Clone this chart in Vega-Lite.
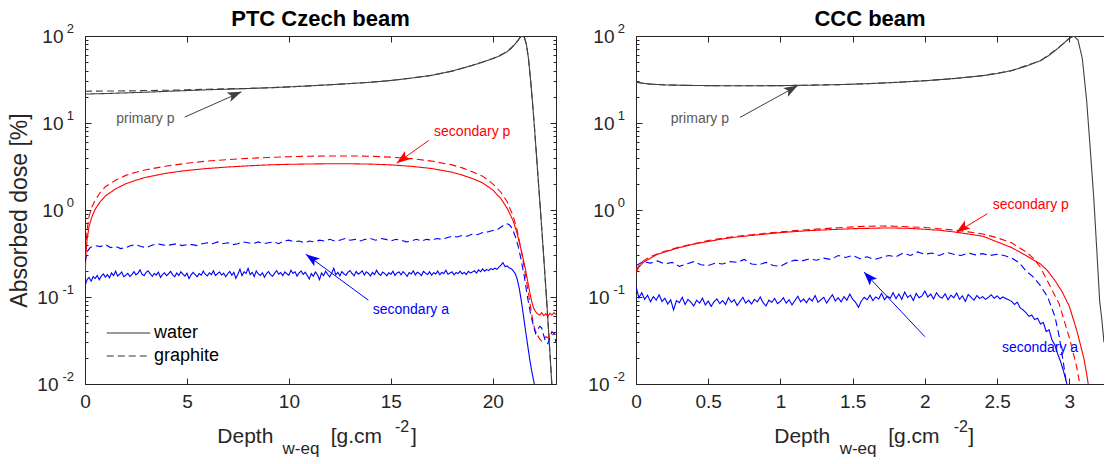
{
"$schema": "https://vega.github.io/schema/vega-lite/v6.json",
"background": "white",
"padding": {"left": 8, "top": 7, "right": 0, "bottom": 0},
"spacing": 30,
"config": {
  "font": "Liberation Sans",
  "view": {"stroke": "#262626", "strokeWidth": 1},
  "axis": {"grid": false, "domainColor": "#262626", "tickColor": "#262626", "labelColor": "#262626", "labelFont": "Liberation Sans", "labelFontSize": 19, "titleFont": "Liberation Sans", "titleColor": "#262626", "titleFontWeight": "normal"},
  "title": {"font": "Liberation Sans", "fontSize": 22, "fontWeight": "bold", "color": "#000000", "offset": -8},
  "text": {"font": "Liberation Sans"},
  "line": {"color": "#333333"}
},
"datasets": {
"ptc": [
{"comp":"primary p","mat":"water","x":0,"y":21.5},{"comp":"primary p","mat":"water","x":1,"y":21.8},{"comp":"primary p","mat":"water","x":2,"y":22.2},{"comp":"primary p","mat":"water","x":3,"y":22.6},{"comp":"primary p","mat":"water","x":4,"y":23.1},{"comp":"primary p","mat":"water","x":5,"y":23.6},{"comp":"primary p","mat":"water","x":6,"y":24.1},{"comp":"primary p","mat":"water","x":7,"y":24.5},{"comp":"primary p","mat":"water","x":8,"y":24.9},{"comp":"primary p","mat":"water","x":9,"y":25.4},{"comp":"primary p","mat":"water","x":10,"y":26},{"comp":"primary p","mat":"water","x":11,"y":26.7},{"comp":"primary p","mat":"water","x":12,"y":27.5},{"comp":"primary p","mat":"water","x":13,"y":28.4},{"comp":"primary p","mat":"water","x":14,"y":29.4},{"comp":"primary p","mat":"water","x":15,"y":30.8},{"comp":"primary p","mat":"water","x":16,"y":32.8},{"comp":"primary p","mat":"water","x":17,"y":35.3},{"comp":"primary p","mat":"water","x":18,"y":39.5},{"comp":"primary p","mat":"water","x":18.5,"y":42.5},{"comp":"primary p","mat":"water","x":19,"y":46},{"comp":"primary p","mat":"water","x":19.5,"y":50},{"comp":"primary p","mat":"water","x":20,"y":55},{"comp":"primary p","mat":"water","x":20.4,"y":60},{"comp":"primary p","mat":"water","x":20.7,"y":66},{"comp":"primary p","mat":"water","x":20.9,"y":72},{"comp":"primary p","mat":"water","x":21.1,"y":81},{"comp":"primary p","mat":"water","x":21.25,"y":90},{"comp":"primary p","mat":"water","x":21.35,"y":97},{"comp":"primary p","mat":"water","x":21.45,"y":100},{"comp":"primary p","mat":"water","x":21.55,"y":96},{"comp":"primary p","mat":"water","x":21.65,"y":80},{"comp":"primary p","mat":"water","x":21.75,"y":55},{"comp":"primary p","mat":"water","x":21.85,"y":32},{"comp":"primary p","mat":"water","x":21.95,"y":17},{"comp":"primary p","mat":"water","x":22.05,"y":8.5},{"comp":"primary p","mat":"water","x":22.15,"y":4},{"comp":"primary p","mat":"water","x":22.25,"y":1.9},{"comp":"primary p","mat":"water","x":22.35,"y":0.9},{"comp":"primary p","mat":"water","x":22.45,"y":0.42},{"comp":"primary p","mat":"water","x":22.55,"y":0.19},{"comp":"primary p","mat":"water","x":22.65,"y":0.085},{"comp":"primary p","mat":"water","x":22.75,"y":0.036},{"comp":"primary p","mat":"water","x":22.85,"y":0.015},{"comp":"primary p","mat":"water","x":22.95,"y":0.006},
{"comp":"primary p","mat":"graphite","x":0,"y":23.2},{"comp":"primary p","mat":"graphite","x":1,"y":23.3},{"comp":"primary p","mat":"graphite","x":2,"y":23.4},{"comp":"primary p","mat":"graphite","x":3,"y":23.6},{"comp":"primary p","mat":"graphite","x":4,"y":23.8},{"comp":"primary p","mat":"graphite","x":5,"y":24.1},{"comp":"primary p","mat":"graphite","x":6,"y":24.4},{"comp":"primary p","mat":"graphite","x":7,"y":24.7},{"comp":"primary p","mat":"graphite","x":8,"y":25},{"comp":"primary p","mat":"graphite","x":9,"y":25.4},{"comp":"primary p","mat":"graphite","x":10,"y":26},{"comp":"primary p","mat":"graphite","x":11,"y":26.7},{"comp":"primary p","mat":"graphite","x":12,"y":27.5},{"comp":"primary p","mat":"graphite","x":13,"y":28.4},{"comp":"primary p","mat":"graphite","x":14,"y":29.4},{"comp":"primary p","mat":"graphite","x":15,"y":30.8},{"comp":"primary p","mat":"graphite","x":16,"y":32.8},{"comp":"primary p","mat":"graphite","x":17,"y":35.3},{"comp":"primary p","mat":"graphite","x":18,"y":39.5},{"comp":"primary p","mat":"graphite","x":19,"y":46},{"comp":"primary p","mat":"graphite","x":20,"y":55},{"comp":"primary p","mat":"graphite","x":20.7,"y":66},{"comp":"primary p","mat":"graphite","x":21.1,"y":81},{"comp":"primary p","mat":"graphite","x":21.35,"y":97},{"comp":"primary p","mat":"graphite","x":21.45,"y":100},{"comp":"primary p","mat":"graphite","x":21.55,"y":96},{"comp":"primary p","mat":"graphite","x":21.65,"y":80},{"comp":"primary p","mat":"graphite","x":21.75,"y":55},{"comp":"primary p","mat":"graphite","x":21.85,"y":32},{"comp":"primary p","mat":"graphite","x":21.95,"y":17},{"comp":"primary p","mat":"graphite","x":22.05,"y":8.5},{"comp":"primary p","mat":"graphite","x":22.15,"y":4},{"comp":"primary p","mat":"graphite","x":22.25,"y":1.9},{"comp":"primary p","mat":"graphite","x":22.35,"y":0.9},{"comp":"primary p","mat":"graphite","x":22.45,"y":0.42},{"comp":"primary p","mat":"graphite","x":22.55,"y":0.19},{"comp":"primary p","mat":"graphite","x":22.65,"y":0.085},{"comp":"primary p","mat":"graphite","x":22.75,"y":0.036},{"comp":"primary p","mat":"graphite","x":22.85,"y":0.015},{"comp":"primary p","mat":"graphite","x":22.95,"y":0.006},
{"comp":"secondary p","mat":"water","x":0,"y":0.17},{"comp":"secondary p","mat":"water","x":0.05,"y":0.32},{"comp":"secondary p","mat":"water","x":0.1,"y":0.45},{"comp":"secondary p","mat":"water","x":0.2,"y":0.65},{"comp":"secondary p","mat":"water","x":0.35,"y":0.85},{"comp":"secondary p","mat":"water","x":0.5,"y":1.02},{"comp":"secondary p","mat":"water","x":0.75,"y":1.25},{"comp":"secondary p","mat":"water","x":1,"y":1.45},{"comp":"secondary p","mat":"water","x":1.5,"y":1.75},{"comp":"secondary p","mat":"water","x":2,"y":2},{"comp":"secondary p","mat":"water","x":2.5,"y":2.2},{"comp":"secondary p","mat":"water","x":3,"y":2.38},{"comp":"secondary p","mat":"water","x":4,"y":2.65},{"comp":"secondary p","mat":"water","x":5,"y":2.85},{"comp":"secondary p","mat":"water","x":6,"y":3},{"comp":"secondary p","mat":"water","x":7,"y":3.12},{"comp":"secondary p","mat":"water","x":8,"y":3.22},{"comp":"secondary p","mat":"water","x":9,"y":3.3},{"comp":"secondary p","mat":"water","x":10,"y":3.35},{"comp":"secondary p","mat":"water","x":11,"y":3.38},{"comp":"secondary p","mat":"water","x":12,"y":3.4},{"comp":"secondary p","mat":"water","x":13,"y":3.4},{"comp":"secondary p","mat":"water","x":14,"y":3.37},{"comp":"secondary p","mat":"water","x":15,"y":3.3},{"comp":"secondary p","mat":"water","x":16,"y":3.18},{"comp":"secondary p","mat":"water","x":17,"y":3},{"comp":"secondary p","mat":"water","x":18,"y":2.72},{"comp":"secondary p","mat":"water","x":18.5,"y":2.52},{"comp":"secondary p","mat":"water","x":19,"y":2.3},{"comp":"secondary p","mat":"water","x":19.5,"y":2.05},{"comp":"secondary p","mat":"water","x":20,"y":1.7},{"comp":"secondary p","mat":"water","x":20.4,"y":1.35},{"comp":"secondary p","mat":"water","x":20.7,"y":1.05},{"comp":"secondary p","mat":"water","x":21,"y":0.75},{"comp":"secondary p","mat":"water","x":21.2,"y":0.53},{"comp":"secondary p","mat":"water","x":21.4,"y":0.34},{"comp":"secondary p","mat":"water","x":21.6,"y":0.21},{"comp":"secondary p","mat":"water","x":21.75,"y":0.135},{"comp":"secondary p","mat":"water","x":21.9,"y":0.09},{"comp":"secondary p","mat":"water","x":22,"y":0.075},{"comp":"secondary p","mat":"water","x":22.1,"y":0.068},{"comp":"secondary p","mat":"water","x":22.2,"y":0.064},{"comp":"secondary p","mat":"water","x":22.3,"y":0.062},{"comp":"secondary p","mat":"water","x":22.4,"y":0.066},{"comp":"secondary p","mat":"water","x":22.5,"y":0.061},{"comp":"secondary p","mat":"water","x":22.6,"y":0.064},{"comp":"secondary p","mat":"water","x":22.7,"y":0.06},{"comp":"secondary p","mat":"water","x":22.8,"y":0.065},{"comp":"secondary p","mat":"water","x":22.9,"y":0.062},{"comp":"secondary p","mat":"water","x":23,"y":0.066},{"comp":"secondary p","mat":"water","x":23.1,"y":0.063},
{"comp":"secondary p","mat":"graphite","x":0,"y":0.19},{"comp":"secondary p","mat":"graphite","x":0.05,"y":0.4},{"comp":"secondary p","mat":"graphite","x":0.1,"y":0.58},{"comp":"secondary p","mat":"graphite","x":0.2,"y":0.85},{"comp":"secondary p","mat":"graphite","x":0.35,"y":1.1},{"comp":"secondary p","mat":"graphite","x":0.5,"y":1.3},{"comp":"secondary p","mat":"graphite","x":0.75,"y":1.6},{"comp":"secondary p","mat":"graphite","x":1,"y":1.85},{"comp":"secondary p","mat":"graphite","x":1.5,"y":2.2},{"comp":"secondary p","mat":"graphite","x":2,"y":2.5},{"comp":"secondary p","mat":"graphite","x":2.5,"y":2.72},{"comp":"secondary p","mat":"graphite","x":3,"y":2.9},{"comp":"secondary p","mat":"graphite","x":4,"y":3.2},{"comp":"secondary p","mat":"graphite","x":5,"y":3.45},{"comp":"secondary p","mat":"graphite","x":6,"y":3.65},{"comp":"secondary p","mat":"graphite","x":7,"y":3.8},{"comp":"secondary p","mat":"graphite","x":8,"y":3.92},{"comp":"secondary p","mat":"graphite","x":9,"y":4.02},{"comp":"secondary p","mat":"graphite","x":10,"y":4.1},{"comp":"secondary p","mat":"graphite","x":11,"y":4.15},{"comp":"secondary p","mat":"graphite","x":12,"y":4.18},{"comp":"secondary p","mat":"graphite","x":13,"y":4.18},{"comp":"secondary p","mat":"graphite","x":14,"y":4.15},{"comp":"secondary p","mat":"graphite","x":15,"y":4.05},{"comp":"secondary p","mat":"graphite","x":16,"y":3.9},{"comp":"secondary p","mat":"graphite","x":17,"y":3.65},{"comp":"secondary p","mat":"graphite","x":18,"y":3.3},{"comp":"secondary p","mat":"graphite","x":18.5,"y":3.05},{"comp":"secondary p","mat":"graphite","x":19,"y":2.75},{"comp":"secondary p","mat":"graphite","x":19.5,"y":2.45},{"comp":"secondary p","mat":"graphite","x":20,"y":2},{"comp":"secondary p","mat":"graphite","x":20.4,"y":1.6},{"comp":"secondary p","mat":"graphite","x":20.7,"y":1.25},{"comp":"secondary p","mat":"graphite","x":21,"y":0.85},{"comp":"secondary p","mat":"graphite","x":21.2,"y":0.58},{"comp":"secondary p","mat":"graphite","x":21.4,"y":0.34},{"comp":"secondary p","mat":"graphite","x":21.6,"y":0.18},{"comp":"secondary p","mat":"graphite","x":21.75,"y":0.11},{"comp":"secondary p","mat":"graphite","x":21.9,"y":0.065},{"comp":"secondary p","mat":"graphite","x":22,"y":0.048},{"comp":"secondary p","mat":"graphite","x":22.1,"y":0.04},{"comp":"secondary p","mat":"graphite","x":22.2,"y":0.036},{"comp":"secondary p","mat":"graphite","x":22.3,"y":0.033},{"comp":"secondary p","mat":"graphite","x":22.4,"y":0.031},{"comp":"secondary p","mat":"graphite","x":22.5,"y":0.033},{"comp":"secondary p","mat":"graphite","x":22.6,"y":0.035},{"comp":"secondary p","mat":"graphite","x":22.7,"y":0.034},{"comp":"secondary p","mat":"graphite","x":22.8,"y":0.037},{"comp":"secondary p","mat":"graphite","x":22.9,"y":0.036},{"comp":"secondary p","mat":"graphite","x":23,"y":0.038},{"comp":"secondary p","mat":"graphite","x":23.1,"y":0.037},
{"comp":"secondary a","mat":"water","x":0,"y":0.135},{"comp":"secondary a","mat":"water","x":0.1,"y":0.158},{"comp":"secondary a","mat":"water","x":0.2,"y":0.168},{"comp":"secondary a","mat":"water","x":0.3,"y":0.152},{"comp":"secondary a","mat":"water","x":0.4,"y":0.171},{"comp":"secondary a","mat":"water","x":0.5,"y":0.163},{"comp":"secondary a","mat":"water","x":0.6,"y":0.177},{"comp":"secondary a","mat":"water","x":0.7,"y":0.158},{"comp":"secondary a","mat":"water","x":0.8,"y":0.174},{"comp":"secondary a","mat":"water","x":0.9,"y":0.184},
{"comp":"secondary a","mat":"water","x":1,"y":0.169},{"comp":"secondary a","mat":"water","x":1.1,"y":0.181},{"comp":"secondary a","mat":"water","x":1.2,"y":0.166},{"comp":"secondary a","mat":"water","x":1.3,"y":0.189},{"comp":"secondary a","mat":"water","x":1.4,"y":0.176},{"comp":"secondary a","mat":"water","x":1.5,"y":0.198},{"comp":"secondary a","mat":"water","x":1.6,"y":0.174},{"comp":"secondary a","mat":"water","x":1.7,"y":0.183},{"comp":"secondary a","mat":"water","x":1.8,"y":0.194},{"comp":"secondary a","mat":"water","x":1.9,"y":0.171},
{"comp":"secondary a","mat":"water","x":2,"y":0.178},{"comp":"secondary a","mat":"water","x":2.1,"y":0.187},{"comp":"secondary a","mat":"water","x":2.2,"y":0.172},{"comp":"secondary a","mat":"water","x":2.3,"y":0.181},{"comp":"secondary a","mat":"water","x":2.4,"y":0.196},{"comp":"secondary a","mat":"water","x":2.5,"y":0.179},{"comp":"secondary a","mat":"water","x":2.6,"y":0.188},{"comp":"secondary a","mat":"water","x":2.7,"y":0.205},{"comp":"secondary a","mat":"water","x":2.8,"y":0.182},{"comp":"secondary a","mat":"water","x":2.9,"y":0.176},
{"comp":"secondary a","mat":"water","x":3,"y":0.192},{"comp":"secondary a","mat":"water","x":3.1,"y":0.2},{"comp":"secondary a","mat":"water","x":3.2,"y":0.184},{"comp":"secondary a","mat":"water","x":3.3,"y":0.173},{"comp":"secondary a","mat":"water","x":3.4,"y":0.186},{"comp":"secondary a","mat":"water","x":3.5,"y":0.179},{"comp":"secondary a","mat":"water","x":3.6,"y":0.193},{"comp":"secondary a","mat":"water","x":3.7,"y":0.168},{"comp":"secondary a","mat":"water","x":3.8,"y":0.181},{"comp":"secondary a","mat":"water","x":3.9,"y":0.19},
{"comp":"secondary a","mat":"water","x":4,"y":0.176},{"comp":"secondary a","mat":"water","x":4.1,"y":0.185},{"comp":"secondary a","mat":"water","x":4.2,"y":0.197},{"comp":"secondary a","mat":"water","x":4.3,"y":0.18},{"comp":"secondary a","mat":"water","x":4.4,"y":0.171},{"comp":"secondary a","mat":"water","x":4.5,"y":0.189},{"comp":"secondary a","mat":"water","x":4.6,"y":0.177},{"comp":"secondary a","mat":"water","x":4.7,"y":0.195},{"comp":"secondary a","mat":"water","x":4.8,"y":0.183},{"comp":"secondary a","mat":"water","x":4.9,"y":0.174},
{"comp":"secondary a","mat":"water","x":5,"y":0.188},{"comp":"secondary a","mat":"water","x":5.1,"y":0.163},{"comp":"secondary a","mat":"water","x":5.2,"y":0.179},{"comp":"secondary a","mat":"water","x":5.3,"y":0.192},{"comp":"secondary a","mat":"water","x":5.4,"y":0.181},{"comp":"secondary a","mat":"water","x":5.5,"y":0.171},{"comp":"secondary a","mat":"water","x":5.6,"y":0.186},{"comp":"secondary a","mat":"water","x":5.7,"y":0.178},{"comp":"secondary a","mat":"water","x":5.8,"y":0.198},{"comp":"secondary a","mat":"water","x":5.9,"y":0.183},
{"comp":"secondary a","mat":"water","x":6,"y":0.175},{"comp":"secondary a","mat":"water","x":6.1,"y":0.19},{"comp":"secondary a","mat":"water","x":6.2,"y":0.181},{"comp":"secondary a","mat":"water","x":6.3,"y":0.2},{"comp":"secondary a","mat":"water","x":6.4,"y":0.176},{"comp":"secondary a","mat":"water","x":6.5,"y":0.186},{"comp":"secondary a","mat":"water","x":6.6,"y":0.194},{"comp":"secondary a","mat":"water","x":6.7,"y":0.179},{"comp":"secondary a","mat":"water","x":6.8,"y":0.188},{"comp":"secondary a","mat":"water","x":6.9,"y":0.171},
{"comp":"secondary a","mat":"water","x":7,"y":0.185},{"comp":"secondary a","mat":"water","x":7.1,"y":0.197},{"comp":"secondary a","mat":"water","x":7.2,"y":0.178},{"comp":"secondary a","mat":"water","x":7.3,"y":0.192},{"comp":"secondary a","mat":"water","x":7.4,"y":0.164},{"comp":"secondary a","mat":"water","x":7.5,"y":0.183},{"comp":"secondary a","mat":"water","x":7.6,"y":0.209},{"comp":"secondary a","mat":"water","x":7.7,"y":0.176},{"comp":"secondary a","mat":"water","x":7.8,"y":0.195},{"comp":"secondary a","mat":"water","x":7.9,"y":0.187},
{"comp":"secondary a","mat":"water","x":8,"y":0.214},{"comp":"secondary a","mat":"water","x":8.1,"y":0.181},{"comp":"secondary a","mat":"water","x":8.2,"y":0.192},{"comp":"secondary a","mat":"water","x":8.3,"y":0.172},{"comp":"secondary a","mat":"water","x":8.4,"y":0.199},{"comp":"secondary a","mat":"water","x":8.5,"y":0.184},{"comp":"secondary a","mat":"water","x":8.6,"y":0.177},{"comp":"secondary a","mat":"water","x":8.7,"y":0.19},{"comp":"secondary a","mat":"water","x":8.8,"y":0.169},{"comp":"secondary a","mat":"water","x":8.9,"y":0.186},
{"comp":"secondary a","mat":"water","x":9,"y":0.196},{"comp":"secondary a","mat":"water","x":9.1,"y":0.18},{"comp":"secondary a","mat":"water","x":9.2,"y":0.173},{"comp":"secondary a","mat":"water","x":9.3,"y":0.188},{"comp":"secondary a","mat":"water","x":9.4,"y":0.201},{"comp":"secondary a","mat":"water","x":9.5,"y":0.183},{"comp":"secondary a","mat":"water","x":9.6,"y":0.191},{"comp":"secondary a","mat":"water","x":9.7,"y":0.176},{"comp":"secondary a","mat":"water","x":9.8,"y":0.194},{"comp":"secondary a","mat":"water","x":9.9,"y":0.185},
{"comp":"secondary a","mat":"water","x":10,"y":0.178},{"comp":"secondary a","mat":"water","x":10.1,"y":0.203},{"comp":"secondary a","mat":"water","x":10.2,"y":0.187},{"comp":"secondary a","mat":"water","x":10.3,"y":0.195},{"comp":"secondary a","mat":"water","x":10.4,"y":0.174},{"comp":"secondary a","mat":"water","x":10.5,"y":0.189},{"comp":"secondary a","mat":"water","x":10.6,"y":0.199},{"comp":"secondary a","mat":"water","x":10.7,"y":0.182},{"comp":"secondary a","mat":"water","x":10.8,"y":0.193},{"comp":"secondary a","mat":"water","x":10.9,"y":0.177},
{"comp":"secondary a","mat":"water","x":11,"y":0.161},{"comp":"secondary a","mat":"water","x":11.1,"y":0.186},{"comp":"secondary a","mat":"water","x":11.2,"y":0.173},{"comp":"secondary a","mat":"water","x":11.3,"y":0.194},{"comp":"secondary a","mat":"water","x":11.4,"y":0.18},{"comp":"secondary a","mat":"water","x":11.5,"y":0.158},{"comp":"secondary a","mat":"water","x":11.6,"y":0.189},{"comp":"secondary a","mat":"water","x":11.7,"y":0.176},{"comp":"secondary a","mat":"water","x":11.8,"y":0.198},{"comp":"secondary a","mat":"water","x":11.9,"y":0.182},
{"comp":"secondary a","mat":"water","x":12,"y":0.171},{"comp":"secondary a","mat":"water","x":12.1,"y":0.188},{"comp":"secondary a","mat":"water","x":12.2,"y":0.214},{"comp":"secondary a","mat":"water","x":12.3,"y":0.18},{"comp":"secondary a","mat":"water","x":12.4,"y":0.192},{"comp":"secondary a","mat":"water","x":12.5,"y":0.175},{"comp":"secondary a","mat":"water","x":12.6,"y":0.196},{"comp":"secondary a","mat":"water","x":12.7,"y":0.184},{"comp":"secondary a","mat":"water","x":12.8,"y":0.178},{"comp":"secondary a","mat":"water","x":12.9,"y":0.193},
{"comp":"secondary a","mat":"water","x":13,"y":0.201},{"comp":"secondary a","mat":"water","x":13.1,"y":0.186},{"comp":"secondary a","mat":"water","x":13.2,"y":0.175},{"comp":"secondary a","mat":"water","x":13.3,"y":0.197},{"comp":"secondary a","mat":"water","x":13.4,"y":0.183},{"comp":"secondary a","mat":"water","x":13.5,"y":0.19},{"comp":"secondary a","mat":"water","x":13.6,"y":0.2},{"comp":"secondary a","mat":"water","x":13.7,"y":0.179},{"comp":"secondary a","mat":"water","x":13.8,"y":0.195},{"comp":"secondary a","mat":"water","x":13.9,"y":0.187},
{"comp":"secondary a","mat":"water","x":14,"y":0.174},{"comp":"secondary a","mat":"water","x":14.1,"y":0.192},{"comp":"secondary a","mat":"water","x":14.2,"y":0.181},{"comp":"secondary a","mat":"water","x":14.3,"y":0.203},{"comp":"secondary a","mat":"water","x":14.4,"y":0.185},{"comp":"secondary a","mat":"water","x":14.5,"y":0.177},{"comp":"secondary a","mat":"water","x":14.6,"y":0.194},{"comp":"secondary a","mat":"water","x":14.7,"y":0.186},{"comp":"secondary a","mat":"water","x":14.8,"y":0.175},{"comp":"secondary a","mat":"water","x":14.9,"y":0.19},
{"comp":"secondary a","mat":"water","x":15,"y":0.182},{"comp":"secondary a","mat":"water","x":15.1,"y":0.198},{"comp":"secondary a","mat":"water","x":15.2,"y":0.177},{"comp":"secondary a","mat":"water","x":15.3,"y":0.189},{"comp":"secondary a","mat":"water","x":15.4,"y":0.194},{"comp":"secondary a","mat":"water","x":15.5,"y":0.18},{"comp":"secondary a","mat":"water","x":15.6,"y":0.196},{"comp":"secondary a","mat":"water","x":15.7,"y":0.185},{"comp":"secondary a","mat":"water","x":15.8,"y":0.173},{"comp":"secondary a","mat":"water","x":15.9,"y":0.191},
{"comp":"secondary a","mat":"water","x":16,"y":0.184},{"comp":"secondary a","mat":"water","x":16.1,"y":0.2},{"comp":"secondary a","mat":"water","x":16.2,"y":0.179},{"comp":"secondary a","mat":"water","x":16.3,"y":0.193},{"comp":"secondary a","mat":"water","x":16.4,"y":0.186},{"comp":"secondary a","mat":"water","x":16.5,"y":0.176},{"comp":"secondary a","mat":"water","x":16.6,"y":0.197},{"comp":"secondary a","mat":"water","x":16.7,"y":0.188},{"comp":"secondary a","mat":"water","x":16.8,"y":0.181},{"comp":"secondary a","mat":"water","x":16.9,"y":0.195},
{"comp":"secondary a","mat":"water","x":17,"y":0.178},{"comp":"secondary a","mat":"water","x":17.1,"y":0.19},{"comp":"secondary a","mat":"water","x":17.2,"y":0.184},{"comp":"secondary a","mat":"water","x":17.3,"y":0.199},{"comp":"secondary a","mat":"water","x":17.4,"y":0.18},{"comp":"secondary a","mat":"water","x":17.5,"y":0.192},{"comp":"secondary a","mat":"water","x":17.6,"y":0.186},{"comp":"secondary a","mat":"water","x":17.7,"y":0.203},{"comp":"secondary a","mat":"water","x":17.8,"y":0.183},{"comp":"secondary a","mat":"water","x":17.9,"y":0.189},
{"comp":"secondary a","mat":"water","x":18,"y":0.195},{"comp":"secondary a","mat":"water","x":18.1,"y":0.18},{"comp":"secondary a","mat":"water","x":18.2,"y":0.191},{"comp":"secondary a","mat":"water","x":18.3,"y":0.186},{"comp":"secondary a","mat":"water","x":18.4,"y":0.198},{"comp":"secondary a","mat":"water","x":18.5,"y":0.184},{"comp":"secondary a","mat":"water","x":18.6,"y":0.192},{"comp":"secondary a","mat":"water","x":18.7,"y":0.181},{"comp":"secondary a","mat":"water","x":18.8,"y":0.197},{"comp":"secondary a","mat":"water","x":18.9,"y":0.189},
{"comp":"secondary a","mat":"water","x":19,"y":0.194},{"comp":"secondary a","mat":"water","x":19.1,"y":0.2},{"comp":"secondary a","mat":"water","x":19.2,"y":0.188},{"comp":"secondary a","mat":"water","x":19.3,"y":0.205},{"comp":"secondary a","mat":"water","x":19.4,"y":0.195},{"comp":"secondary a","mat":"water","x":19.5,"y":0.21},{"comp":"secondary a","mat":"water","x":19.6,"y":0.198},{"comp":"secondary a","mat":"water","x":19.7,"y":0.207},{"comp":"secondary a","mat":"water","x":19.8,"y":0.201},{"comp":"secondary a","mat":"water","x":19.9,"y":0.212},
{"comp":"secondary a","mat":"water","x":20,"y":0.206},{"comp":"secondary a","mat":"water","x":20.1,"y":0.215},{"comp":"secondary a","mat":"water","x":20.2,"y":0.208},{"comp":"secondary a","mat":"water","x":20.3,"y":0.22},{"comp":"secondary a","mat":"water","x":20.4,"y":0.232},{"comp":"secondary a","mat":"water","x":20.5,"y":0.248},{"comp":"secondary a","mat":"water","x":20.6,"y":0.224},{"comp":"secondary a","mat":"water","x":20.7,"y":0.228},{"comp":"secondary a","mat":"water","x":20.8,"y":0.216},{"comp":"secondary a","mat":"water","x":20.9,"y":0.212},
{"comp":"secondary a","mat":"water","x":21,"y":0.2},{"comp":"secondary a","mat":"water","x":21.1,"y":0.186},{"comp":"secondary a","mat":"water","x":21.2,"y":0.16},{"comp":"secondary a","mat":"water","x":21.3,"y":0.125},{"comp":"secondary a","mat":"water","x":21.4,"y":0.09},{"comp":"secondary a","mat":"water","x":21.5,"y":0.062},{"comp":"secondary a","mat":"water","x":21.6,"y":0.042},{"comp":"secondary a","mat":"water","x":21.7,"y":0.029},{"comp":"secondary a","mat":"water","x":21.8,"y":0.02},{"comp":"secondary a","mat":"water","x":21.9,"y":0.0145},{"comp":"secondary a","mat":"water","x":22,"y":0.011},{"comp":"secondary a","mat":"water","x":22.1,"y":0.0085},
{"comp":"secondary a","mat":"graphite","x":0,"y":0.25},{"comp":"secondary a","mat":"graphite","x":0.1,"y":0.33},{"comp":"secondary a","mat":"graphite","x":0.25,"y":0.37},{"comp":"secondary a","mat":"graphite","x":0.5,"y":0.39},{"comp":"secondary a","mat":"graphite","x":0.75,"y":0.38},{"comp":"secondary a","mat":"graphite","x":1,"y":0.4},{"comp":"secondary a","mat":"graphite","x":1.25,"y":0.37},{"comp":"secondary a","mat":"graphite","x":1.5,"y":0.38},{"comp":"secondary a","mat":"graphite","x":1.75,"y":0.36},{"comp":"secondary a","mat":"graphite","x":2,"y":0.37},{"comp":"secondary a","mat":"graphite","x":2.25,"y":0.39},{"comp":"secondary a","mat":"graphite","x":2.5,"y":0.4},{"comp":"secondary a","mat":"graphite","x":2.75,"y":0.38},{"comp":"secondary a","mat":"graphite","x":3,"y":0.37},{"comp":"secondary a","mat":"graphite","x":3.25,"y":0.39},{"comp":"secondary a","mat":"graphite","x":3.5,"y":0.41},{"comp":"secondary a","mat":"graphite","x":3.75,"y":0.4},{"comp":"secondary a","mat":"graphite","x":4,"y":0.39},{"comp":"secondary a","mat":"graphite","x":4.25,"y":0.4},{"comp":"secondary a","mat":"graphite","x":4.5,"y":0.41},{"comp":"secondary a","mat":"graphite","x":4.75,"y":0.39},{"comp":"secondary a","mat":"graphite","x":5,"y":0.4},{"comp":"secondary a","mat":"graphite","x":5.25,"y":0.4},{"comp":"secondary a","mat":"graphite","x":5.5,"y":0.39},{"comp":"secondary a","mat":"graphite","x":5.75,"y":0.41},{"comp":"secondary a","mat":"graphite","x":6,"y":0.42},{"comp":"secondary a","mat":"graphite","x":6.25,"y":0.41},{"comp":"secondary a","mat":"graphite","x":6.5,"y":0.43},{"comp":"secondary a","mat":"graphite","x":6.75,"y":0.41},{"comp":"secondary a","mat":"graphite","x":7,"y":0.42},{"comp":"secondary a","mat":"graphite","x":7.25,"y":0.4},{"comp":"secondary a","mat":"graphite","x":7.5,"y":0.41},{"comp":"secondary a","mat":"graphite","x":7.75,"y":0.43},{"comp":"secondary a","mat":"graphite","x":8,"y":0.42},{"comp":"secondary a","mat":"graphite","x":8.25,"y":0.41},{"comp":"secondary a","mat":"graphite","x":8.5,"y":0.43},{"comp":"secondary a","mat":"graphite","x":8.75,"y":0.41},{"comp":"secondary a","mat":"graphite","x":9,"y":0.42},{"comp":"secondary a","mat":"graphite","x":9.25,"y":0.43},{"comp":"secondary a","mat":"graphite","x":9.5,"y":0.41},{"comp":"secondary a","mat":"graphite","x":9.75,"y":0.44},{"comp":"secondary a","mat":"graphite","x":10,"y":0.45},{"comp":"secondary a","mat":"graphite","x":10.25,"y":0.43},{"comp":"secondary a","mat":"graphite","x":10.5,"y":0.44},{"comp":"secondary a","mat":"graphite","x":10.75,"y":0.42},{"comp":"secondary a","mat":"graphite","x":11,"y":0.44},{"comp":"secondary a","mat":"graphite","x":11.25,"y":0.43},{"comp":"secondary a","mat":"graphite","x":11.5,"y":0.45},{"comp":"secondary a","mat":"graphite","x":11.75,"y":0.44},{"comp":"secondary a","mat":"graphite","x":12,"y":0.46},{"comp":"secondary a","mat":"graphite","x":12.25,"y":0.44},{"comp":"secondary a","mat":"graphite","x":12.5,"y":0.45},{"comp":"secondary a","mat":"graphite","x":12.75,"y":0.47},{"comp":"secondary a","mat":"graphite","x":13,"y":0.45},{"comp":"secondary a","mat":"graphite","x":13.25,"y":0.46},{"comp":"secondary a","mat":"graphite","x":13.5,"y":0.44},{"comp":"secondary a","mat":"graphite","x":13.75,"y":0.46},{"comp":"secondary a","mat":"graphite","x":14,"y":0.47},{"comp":"secondary a","mat":"graphite","x":14.25,"y":0.45},{"comp":"secondary a","mat":"graphite","x":14.5,"y":0.47},{"comp":"secondary a","mat":"graphite","x":14.75,"y":0.46},{"comp":"secondary a","mat":"graphite","x":15,"y":0.44},{"comp":"secondary a","mat":"graphite","x":15.25,"y":0.46},{"comp":"secondary a","mat":"graphite","x":15.5,"y":0.45},{"comp":"secondary a","mat":"graphite","x":15.75,"y":0.43},{"comp":"secondary a","mat":"graphite","x":16,"y":0.44},{"comp":"secondary a","mat":"graphite","x":16.25,"y":0.46},{"comp":"secondary a","mat":"graphite","x":16.5,"y":0.44},{"comp":"secondary a","mat":"graphite","x":16.75,"y":0.46},{"comp":"secondary a","mat":"graphite","x":17,"y":0.45},{"comp":"secondary a","mat":"graphite","x":17.25,"y":0.47},{"comp":"secondary a","mat":"graphite","x":17.5,"y":0.46},{"comp":"secondary a","mat":"graphite","x":17.75,"y":0.48},{"comp":"secondary a","mat":"graphite","x":18,"y":0.5},{"comp":"secondary a","mat":"graphite","x":18.25,"y":0.49},{"comp":"secondary a","mat":"graphite","x":18.5,"y":0.51},{"comp":"secondary a","mat":"graphite","x":18.75,"y":0.5},{"comp":"secondary a","mat":"graphite","x":19,"y":0.53},{"comp":"secondary a","mat":"graphite","x":19.25,"y":0.52},{"comp":"secondary a","mat":"graphite","x":19.5,"y":0.55},{"comp":"secondary a","mat":"graphite","x":19.75,"y":0.56},{"comp":"secondary a","mat":"graphite","x":20,"y":0.58},{"comp":"secondary a","mat":"graphite","x":20.25,"y":0.6},{"comp":"secondary a","mat":"graphite","x":20.5,"y":0.66},{"comp":"secondary a","mat":"graphite","x":20.65,"y":0.7},{"comp":"secondary a","mat":"graphite","x":20.8,"y":0.68},{"comp":"secondary a","mat":"graphite","x":20.95,"y":0.62},{"comp":"secondary a","mat":"graphite","x":21.1,"y":0.5},{"comp":"secondary a","mat":"graphite","x":21.25,"y":0.38},{"comp":"secondary a","mat":"graphite","x":21.4,"y":0.26},{"comp":"secondary a","mat":"graphite","x":21.55,"y":0.17},{"comp":"secondary a","mat":"graphite","x":21.7,"y":0.1},{"comp":"secondary a","mat":"graphite","x":21.85,"y":0.065},{"comp":"secondary a","mat":"graphite","x":22,"y":0.046},{"comp":"secondary a","mat":"graphite","x":22.1,"y":0.038},{"comp":"secondary a","mat":"graphite","x":22.2,"y":0.042},{"comp":"secondary a","mat":"graphite","x":22.3,"y":0.046},{"comp":"secondary a","mat":"graphite","x":22.4,"y":0.044},{"comp":"secondary a","mat":"graphite","x":22.5,"y":0.036},{"comp":"secondary a","mat":"graphite","x":22.6,"y":0.03},{"comp":"secondary a","mat":"graphite","x":22.7,"y":0.029},{"comp":"secondary a","mat":"graphite","x":22.8,"y":0.034},{"comp":"secondary a","mat":"graphite","x":22.9,"y":0.04},{"comp":"secondary a","mat":"graphite","x":23,"y":0.038},{"comp":"secondary a","mat":"graphite","x":23.1,"y":0.03}
],
"ccc": [
{"comp":"primary p","mat":"water","x":0,"y":29.5},{"comp":"primary p","mat":"water","x":0.05,"y":28.6},{"comp":"primary p","mat":"water","x":0.1,"y":28},{"comp":"primary p","mat":"water","x":0.2,"y":27.4},{"comp":"primary p","mat":"water","x":0.4,"y":27},{"comp":"primary p","mat":"water","x":0.6,"y":26.8},{"comp":"primary p","mat":"water","x":0.8,"y":26.8},{"comp":"primary p","mat":"water","x":1,"y":26.9},{"comp":"primary p","mat":"water","x":1.2,"y":27.2},{"comp":"primary p","mat":"water","x":1.4,"y":27.6},{"comp":"primary p","mat":"water","x":1.6,"y":28.3},{"comp":"primary p","mat":"water","x":1.8,"y":29.3},{"comp":"primary p","mat":"water","x":2,"y":30.6},{"comp":"primary p","mat":"water","x":2.2,"y":32.4},{"comp":"primary p","mat":"water","x":2.4,"y":35},{"comp":"primary p","mat":"water","x":2.5,"y":37},{"comp":"primary p","mat":"water","x":2.6,"y":40},{"comp":"primary p","mat":"water","x":2.7,"y":45},{"comp":"primary p","mat":"water","x":2.8,"y":52},{"comp":"primary p","mat":"water","x":2.86,"y":60},{"comp":"primary p","mat":"water","x":2.92,"y":72},{"comp":"primary p","mat":"water","x":2.97,"y":85},{"comp":"primary p","mat":"water","x":3,"y":94},{"comp":"primary p","mat":"water","x":3.03,"y":100},{"comp":"primary p","mat":"water","x":3.06,"y":90},{"comp":"primary p","mat":"water","x":3.09,"y":55},{"comp":"primary p","mat":"water","x":3.12,"y":18},{"comp":"primary p","mat":"water","x":3.145,"y":5},{"comp":"primary p","mat":"water","x":3.17,"y":1.3},{"comp":"primary p","mat":"water","x":3.19,"y":0.35},{"comp":"primary p","mat":"water","x":3.21,"y":0.09},{"comp":"primary p","mat":"water","x":3.225,"y":0.055},{"comp":"primary p","mat":"water","x":3.24,"y":0.03},
{"comp":"primary p","mat":"graphite","x":0,"y":29.5},{"comp":"primary p","mat":"graphite","x":0.05,"y":28.6},{"comp":"primary p","mat":"graphite","x":0.1,"y":28},{"comp":"primary p","mat":"graphite","x":0.2,"y":27.4},{"comp":"primary p","mat":"graphite","x":0.4,"y":27},{"comp":"primary p","mat":"graphite","x":0.6,"y":26.8},{"comp":"primary p","mat":"graphite","x":0.8,"y":26.8},{"comp":"primary p","mat":"graphite","x":1,"y":26.9},{"comp":"primary p","mat":"graphite","x":1.2,"y":27.2},{"comp":"primary p","mat":"graphite","x":1.4,"y":27.6},{"comp":"primary p","mat":"graphite","x":1.6,"y":28.3},{"comp":"primary p","mat":"graphite","x":1.8,"y":29.3},{"comp":"primary p","mat":"graphite","x":2,"y":30.6},{"comp":"primary p","mat":"graphite","x":2.2,"y":32.4},{"comp":"primary p","mat":"graphite","x":2.4,"y":35},{"comp":"primary p","mat":"graphite","x":2.6,"y":40},{"comp":"primary p","mat":"graphite","x":2.8,"y":52},{"comp":"primary p","mat":"graphite","x":2.92,"y":72},{"comp":"primary p","mat":"graphite","x":3,"y":94},{"comp":"primary p","mat":"graphite","x":3.03,"y":100},
{"comp":"secondary p","mat":"water","x":0,"y":0.19},{"comp":"secondary p","mat":"water","x":0.02,"y":0.22},{"comp":"secondary p","mat":"water","x":0.05,"y":0.25},{"comp":"secondary p","mat":"water","x":0.1,"y":0.28},{"comp":"secondary p","mat":"water","x":0.15,"y":0.31},{"comp":"secondary p","mat":"water","x":0.2,"y":0.33},{"comp":"secondary p","mat":"water","x":0.3,"y":0.37},{"comp":"secondary p","mat":"water","x":0.4,"y":0.405},{"comp":"secondary p","mat":"water","x":0.5,"y":0.435},{"comp":"secondary p","mat":"water","x":0.6,"y":0.465},{"comp":"secondary p","mat":"water","x":0.7,"y":0.49},{"comp":"secondary p","mat":"water","x":0.8,"y":0.51},{"comp":"secondary p","mat":"water","x":0.9,"y":0.53},{"comp":"secondary p","mat":"water","x":1,"y":0.55},{"comp":"secondary p","mat":"water","x":1.1,"y":0.565},{"comp":"secondary p","mat":"water","x":1.2,"y":0.58},{"comp":"secondary p","mat":"water","x":1.3,"y":0.59},{"comp":"secondary p","mat":"water","x":1.4,"y":0.6},{"comp":"secondary p","mat":"water","x":1.5,"y":0.61},{"comp":"secondary p","mat":"water","x":1.6,"y":0.615},{"comp":"secondary p","mat":"water","x":1.7,"y":0.62},{"comp":"secondary p","mat":"water","x":1.8,"y":0.62},{"comp":"secondary p","mat":"water","x":1.9,"y":0.615},{"comp":"secondary p","mat":"water","x":2,"y":0.6},{"comp":"secondary p","mat":"water","x":2.1,"y":0.585},{"comp":"secondary p","mat":"water","x":2.2,"y":0.56},{"comp":"secondary p","mat":"water","x":2.3,"y":0.53},{"comp":"secondary p","mat":"water","x":2.4,"y":0.5},{"comp":"secondary p","mat":"water","x":2.5,"y":0.43},{"comp":"secondary p","mat":"water","x":2.6,"y":0.37},{"comp":"secondary p","mat":"water","x":2.7,"y":0.3},{"comp":"secondary p","mat":"water","x":2.8,"y":0.24},{"comp":"secondary p","mat":"water","x":2.85,"y":0.2},{"comp":"secondary p","mat":"water","x":2.9,"y":0.155},{"comp":"secondary p","mat":"water","x":2.95,"y":0.115},{"comp":"secondary p","mat":"water","x":3,"y":0.078},{"comp":"secondary p","mat":"water","x":3.05,"y":0.042},{"comp":"secondary p","mat":"water","x":3.1,"y":0.02},{"comp":"secondary p","mat":"water","x":3.12,"y":0.013},{"comp":"secondary p","mat":"water","x":3.14,"y":0.008},
{"comp":"secondary p","mat":"graphite","x":0,"y":0.2},{"comp":"secondary p","mat":"graphite","x":0.02,"y":0.23},{"comp":"secondary p","mat":"graphite","x":0.05,"y":0.26},{"comp":"secondary p","mat":"graphite","x":0.1,"y":0.29},{"comp":"secondary p","mat":"graphite","x":0.15,"y":0.315},{"comp":"secondary p","mat":"graphite","x":0.2,"y":0.335},{"comp":"secondary p","mat":"graphite","x":0.3,"y":0.375},{"comp":"secondary p","mat":"graphite","x":0.4,"y":0.41},{"comp":"secondary p","mat":"graphite","x":0.5,"y":0.445},{"comp":"secondary p","mat":"graphite","x":0.6,"y":0.475},{"comp":"secondary p","mat":"graphite","x":0.7,"y":0.5},{"comp":"secondary p","mat":"graphite","x":0.8,"y":0.52},{"comp":"secondary p","mat":"graphite","x":0.9,"y":0.54},{"comp":"secondary p","mat":"graphite","x":1,"y":0.56},{"comp":"secondary p","mat":"graphite","x":1.1,"y":0.58},{"comp":"secondary p","mat":"graphite","x":1.2,"y":0.595},{"comp":"secondary p","mat":"graphite","x":1.3,"y":0.61},{"comp":"secondary p","mat":"graphite","x":1.4,"y":0.625},{"comp":"secondary p","mat":"graphite","x":1.5,"y":0.64},{"comp":"secondary p","mat":"graphite","x":1.6,"y":0.65},{"comp":"secondary p","mat":"graphite","x":1.7,"y":0.655},{"comp":"secondary p","mat":"graphite","x":1.8,"y":0.65},{"comp":"secondary p","mat":"graphite","x":1.9,"y":0.64},{"comp":"secondary p","mat":"graphite","x":2,"y":0.63},{"comp":"secondary p","mat":"graphite","x":2.1,"y":0.61},{"comp":"secondary p","mat":"graphite","x":2.2,"y":0.59},{"comp":"secondary p","mat":"graphite","x":2.3,"y":0.56},{"comp":"secondary p","mat":"graphite","x":2.4,"y":0.53},{"comp":"secondary p","mat":"graphite","x":2.5,"y":0.48},{"comp":"secondary p","mat":"graphite","x":2.6,"y":0.42},{"comp":"secondary p","mat":"graphite","x":2.7,"y":0.33},{"comp":"secondary p","mat":"graphite","x":2.75,"y":0.28},{"comp":"secondary p","mat":"graphite","x":2.8,"y":0.22},{"comp":"secondary p","mat":"graphite","x":2.86,"y":0.14},{"comp":"secondary p","mat":"graphite","x":2.93,"y":0.083},{"comp":"secondary p","mat":"graphite","x":3,"y":0.034},{"comp":"secondary p","mat":"graphite","x":3.05,"y":0.016},{"comp":"secondary p","mat":"graphite","x":3.07,"y":0.0105},{"comp":"secondary p","mat":"graphite","x":3.09,"y":0.007},
{"comp":"secondary a","mat":"water","x":0,"y":0.132},{"comp":"secondary a","mat":"water","x":0.02,"y":0.098},{"comp":"secondary a","mat":"water","x":0.04,"y":0.112},{"comp":"secondary a","mat":"water","x":0.06,"y":0.094},{"comp":"secondary a","mat":"water","x":0.08,"y":0.105},{"comp":"secondary a","mat":"water","x":0.1,"y":0.088},{"comp":"secondary a","mat":"water","x":0.12,"y":0.101},{"comp":"secondary a","mat":"water","x":0.14,"y":0.092},{"comp":"secondary a","mat":"water","x":0.16,"y":0.106},{"comp":"secondary a","mat":"water","x":0.18,"y":0.089},
{"comp":"secondary a","mat":"water","x":0.2,"y":0.097},{"comp":"secondary a","mat":"water","x":0.22,"y":0.083},{"comp":"secondary a","mat":"water","x":0.24,"y":0.093},{"comp":"secondary a","mat":"water","x":0.26,"y":0.071},{"comp":"secondary a","mat":"water","x":0.28,"y":0.091},{"comp":"secondary a","mat":"water","x":0.3,"y":0.086},{"comp":"secondary a","mat":"water","x":0.32,"y":0.099},{"comp":"secondary a","mat":"water","x":0.34,"y":0.082},{"comp":"secondary a","mat":"water","x":0.36,"y":0.094},{"comp":"secondary a","mat":"water","x":0.38,"y":0.087},
{"comp":"secondary a","mat":"water","x":0.4,"y":0.079},{"comp":"secondary a","mat":"water","x":0.42,"y":0.092},{"comp":"secondary a","mat":"water","x":0.44,"y":0.085},{"comp":"secondary a","mat":"water","x":0.46,"y":0.097},{"comp":"secondary a","mat":"water","x":0.48,"y":0.081},{"comp":"secondary a","mat":"water","x":0.5,"y":0.09},{"comp":"secondary a","mat":"water","x":0.52,"y":0.078},{"comp":"secondary a","mat":"water","x":0.54,"y":0.088},{"comp":"secondary a","mat":"water","x":0.56,"y":0.095},{"comp":"secondary a","mat":"water","x":0.58,"y":0.084},
{"comp":"secondary a","mat":"water","x":0.6,"y":0.091},{"comp":"secondary a","mat":"water","x":0.62,"y":0.082},{"comp":"secondary a","mat":"water","x":0.64,"y":0.098},{"comp":"secondary a","mat":"water","x":0.66,"y":0.087},{"comp":"secondary a","mat":"water","x":0.68,"y":0.093},{"comp":"secondary a","mat":"water","x":0.7,"y":0.08},{"comp":"secondary a","mat":"water","x":0.72,"y":0.089},{"comp":"secondary a","mat":"water","x":0.74,"y":0.099},{"comp":"secondary a","mat":"water","x":0.76,"y":0.085},{"comp":"secondary a","mat":"water","x":0.78,"y":0.092},
{"comp":"secondary a","mat":"water","x":0.8,"y":0.083},{"comp":"secondary a","mat":"water","x":0.82,"y":0.094},{"comp":"secondary a","mat":"water","x":0.84,"y":0.088},{"comp":"secondary a","mat":"water","x":0.86,"y":0.1},{"comp":"secondary a","mat":"water","x":0.88,"y":0.086},{"comp":"secondary a","mat":"water","x":0.9,"y":0.079},{"comp":"secondary a","mat":"water","x":0.92,"y":0.092},{"comp":"secondary a","mat":"water","x":0.94,"y":0.087},{"comp":"secondary a","mat":"water","x":0.96,"y":0.096},{"comp":"secondary a","mat":"water","x":0.98,"y":0.084},
{"comp":"secondary a","mat":"water","x":1,"y":0.089},{"comp":"secondary a","mat":"water","x":1.02,"y":0.098},{"comp":"secondary a","mat":"water","x":1.04,"y":0.085},{"comp":"secondary a","mat":"water","x":1.06,"y":0.093},{"comp":"secondary a","mat":"water","x":1.08,"y":0.081},{"comp":"secondary a","mat":"water","x":1.1,"y":0.091},{"comp":"secondary a","mat":"water","x":1.12,"y":0.102},{"comp":"secondary a","mat":"water","x":1.14,"y":0.088},{"comp":"secondary a","mat":"water","x":1.16,"y":0.095},{"comp":"secondary a","mat":"water","x":1.18,"y":0.086},
{"comp":"secondary a","mat":"water","x":1.2,"y":0.097},{"comp":"secondary a","mat":"water","x":1.22,"y":0.09},{"comp":"secondary a","mat":"water","x":1.24,"y":0.104},{"comp":"secondary a","mat":"water","x":1.26,"y":0.087},{"comp":"secondary a","mat":"water","x":1.28,"y":0.093},{"comp":"secondary a","mat":"water","x":1.3,"y":0.099},{"comp":"secondary a","mat":"water","x":1.32,"y":0.085},{"comp":"secondary a","mat":"water","x":1.34,"y":0.096},{"comp":"secondary a","mat":"water","x":1.36,"y":0.106},{"comp":"secondary a","mat":"water","x":1.38,"y":0.09},
{"comp":"secondary a","mat":"water","x":1.4,"y":0.098},{"comp":"secondary a","mat":"water","x":1.42,"y":0.088},{"comp":"secondary a","mat":"water","x":1.44,"y":0.101},{"comp":"secondary a","mat":"water","x":1.46,"y":0.092},{"comp":"secondary a","mat":"water","x":1.48,"y":0.108},{"comp":"secondary a","mat":"water","x":1.5,"y":0.094},{"comp":"secondary a","mat":"water","x":1.52,"y":0.087},{"comp":"secondary a","mat":"water","x":1.54,"y":0.076},{"comp":"secondary a","mat":"water","x":1.56,"y":0.09},{"comp":"secondary a","mat":"water","x":1.58,"y":0.099},
{"comp":"secondary a","mat":"water","x":1.6,"y":0.093},{"comp":"secondary a","mat":"water","x":1.62,"y":0.105},{"comp":"secondary a","mat":"water","x":1.64,"y":0.091},{"comp":"secondary a","mat":"water","x":1.66,"y":0.1},{"comp":"secondary a","mat":"water","x":1.68,"y":0.095},{"comp":"secondary a","mat":"water","x":1.7,"y":0.11},{"comp":"secondary a","mat":"water","x":1.72,"y":0.093},{"comp":"secondary a","mat":"water","x":1.74,"y":0.102},{"comp":"secondary a","mat":"water","x":1.76,"y":0.097},{"comp":"secondary a","mat":"water","x":1.78,"y":0.112},
{"comp":"secondary a","mat":"water","x":1.8,"y":0.096},{"comp":"secondary a","mat":"water","x":1.82,"y":0.108},{"comp":"secondary a","mat":"water","x":1.84,"y":0.094},{"comp":"secondary a","mat":"water","x":1.86,"y":0.114},{"comp":"secondary a","mat":"water","x":1.88,"y":0.099},{"comp":"secondary a","mat":"water","x":1.9,"y":0.105},{"comp":"secondary a","mat":"water","x":1.92,"y":0.091},{"comp":"secondary a","mat":"water","x":1.94,"y":0.11},{"comp":"secondary a","mat":"water","x":1.96,"y":0.098},{"comp":"secondary a","mat":"water","x":1.98,"y":0.103},
{"comp":"secondary a","mat":"water","x":2,"y":0.117},{"comp":"secondary a","mat":"water","x":2.02,"y":0.1},{"comp":"secondary a","mat":"water","x":2.04,"y":0.108},{"comp":"secondary a","mat":"water","x":2.06,"y":0.095},{"comp":"secondary a","mat":"water","x":2.08,"y":0.112},{"comp":"secondary a","mat":"water","x":2.1,"y":0.101},{"comp":"secondary a","mat":"water","x":2.12,"y":0.097},{"comp":"secondary a","mat":"water","x":2.14,"y":0.109},{"comp":"secondary a","mat":"water","x":2.16,"y":0.093},{"comp":"secondary a","mat":"water","x":2.18,"y":0.105},
{"comp":"secondary a","mat":"water","x":2.2,"y":0.098},{"comp":"secondary a","mat":"water","x":2.22,"y":0.111},{"comp":"secondary a","mat":"water","x":2.24,"y":0.094},{"comp":"secondary a","mat":"water","x":2.26,"y":0.103},{"comp":"secondary a","mat":"water","x":2.28,"y":0.089},{"comp":"secondary a","mat":"water","x":2.3,"y":0.107},{"comp":"secondary a","mat":"water","x":2.32,"y":0.099},{"comp":"secondary a","mat":"water","x":2.34,"y":0.092},{"comp":"secondary a","mat":"water","x":2.36,"y":0.104},{"comp":"secondary a","mat":"water","x":2.38,"y":0.096},
{"comp":"secondary a","mat":"water","x":2.4,"y":0.101},{"comp":"secondary a","mat":"water","x":2.42,"y":0.094},{"comp":"secondary a","mat":"water","x":2.44,"y":0.099},{"comp":"secondary a","mat":"water","x":2.46,"y":0.106},{"comp":"secondary a","mat":"water","x":2.48,"y":0.097},{"comp":"secondary a","mat":"water","x":2.5,"y":0.103},{"comp":"secondary a","mat":"water","x":2.52,"y":0.095},{"comp":"secondary a","mat":"water","x":2.54,"y":0.1},{"comp":"secondary a","mat":"water","x":2.56,"y":0.096},{"comp":"secondary a","mat":"water","x":2.58,"y":0.093},
{"comp":"secondary a","mat":"water","x":2.6,"y":0.089},{"comp":"secondary a","mat":"water","x":2.62,"y":0.082},{"comp":"secondary a","mat":"water","x":2.64,"y":0.087},{"comp":"secondary a","mat":"water","x":2.66,"y":0.075},{"comp":"secondary a","mat":"water","x":2.68,"y":0.071},{"comp":"secondary a","mat":"water","x":2.7,"y":0.066},{"comp":"secondary a","mat":"water","x":2.72,"y":0.06},{"comp":"secondary a","mat":"water","x":2.74,"y":0.062},{"comp":"secondary a","mat":"water","x":2.76,"y":0.055},{"comp":"secondary a","mat":"water","x":2.78,"y":0.057},{"comp":"secondary a","mat":"water","x":2.8,"y":0.049},{"comp":"secondary a","mat":"water","x":2.82,"y":0.051},{"comp":"secondary a","mat":"water","x":2.84,"y":0.04},{"comp":"secondary a","mat":"water","x":2.86,"y":0.042},{"comp":"secondary a","mat":"water","x":2.88,"y":0.032},{"comp":"secondary a","mat":"water","x":2.9,"y":0.028},{"comp":"secondary a","mat":"water","x":2.92,"y":0.022},{"comp":"secondary a","mat":"water","x":2.94,"y":0.018},{"comp":"secondary a","mat":"water","x":2.96,"y":0.014},{"comp":"secondary a","mat":"water","x":2.98,"y":0.0105},{"comp":"secondary a","mat":"water","x":3,"y":0.008},
{"comp":"secondary a","mat":"graphite","x":0,"y":0.23},{"comp":"secondary a","mat":"graphite","x":0.05,"y":0.255},{"comp":"secondary a","mat":"graphite","x":0.1,"y":0.245},{"comp":"secondary a","mat":"graphite","x":0.15,"y":0.26},{"comp":"secondary a","mat":"graphite","x":0.2,"y":0.24},{"comp":"secondary a","mat":"graphite","x":0.25,"y":0.25},{"comp":"secondary a","mat":"graphite","x":0.3,"y":0.225},{"comp":"secondary a","mat":"graphite","x":0.35,"y":0.24},{"comp":"secondary a","mat":"graphite","x":0.4,"y":0.255},{"comp":"secondary a","mat":"graphite","x":0.45,"y":0.235},{"comp":"secondary a","mat":"graphite","x":0.5,"y":0.23},{"comp":"secondary a","mat":"graphite","x":0.55,"y":0.245},{"comp":"secondary a","mat":"graphite","x":0.6,"y":0.24},{"comp":"secondary a","mat":"graphite","x":0.65,"y":0.255},{"comp":"secondary a","mat":"graphite","x":0.7,"y":0.25},{"comp":"secondary a","mat":"graphite","x":0.75,"y":0.27},{"comp":"secondary a","mat":"graphite","x":0.8,"y":0.24},{"comp":"secondary a","mat":"graphite","x":0.85,"y":0.235},{"comp":"secondary a","mat":"graphite","x":0.9,"y":0.25},{"comp":"secondary a","mat":"graphite","x":0.95,"y":0.23},{"comp":"secondary a","mat":"graphite","x":1,"y":0.225},{"comp":"secondary a","mat":"graphite","x":1.05,"y":0.25},{"comp":"secondary a","mat":"graphite","x":1.1,"y":0.265},{"comp":"secondary a","mat":"graphite","x":1.15,"y":0.26},{"comp":"secondary a","mat":"graphite","x":1.2,"y":0.275},{"comp":"secondary a","mat":"graphite","x":1.25,"y":0.265},{"comp":"secondary a","mat":"graphite","x":1.3,"y":0.28},{"comp":"secondary a","mat":"graphite","x":1.35,"y":0.27},{"comp":"secondary a","mat":"graphite","x":1.4,"y":0.3},{"comp":"secondary a","mat":"graphite","x":1.45,"y":0.285},{"comp":"secondary a","mat":"graphite","x":1.5,"y":0.3},{"comp":"secondary a","mat":"graphite","x":1.55,"y":0.275},{"comp":"secondary a","mat":"graphite","x":1.6,"y":0.29},{"comp":"secondary a","mat":"graphite","x":1.65,"y":0.27},{"comp":"secondary a","mat":"graphite","x":1.7,"y":0.285},{"comp":"secondary a","mat":"graphite","x":1.75,"y":0.3},{"comp":"secondary a","mat":"graphite","x":1.8,"y":0.29},{"comp":"secondary a","mat":"graphite","x":1.85,"y":0.32},{"comp":"secondary a","mat":"graphite","x":1.9,"y":0.3},{"comp":"secondary a","mat":"graphite","x":1.95,"y":0.33},{"comp":"secondary a","mat":"graphite","x":2,"y":0.31},{"comp":"secondary a","mat":"graphite","x":2.05,"y":0.32},{"comp":"secondary a","mat":"graphite","x":2.1,"y":0.3},{"comp":"secondary a","mat":"graphite","x":2.15,"y":0.325},{"comp":"secondary a","mat":"graphite","x":2.2,"y":0.31},{"comp":"secondary a","mat":"graphite","x":2.25,"y":0.3},{"comp":"secondary a","mat":"graphite","x":2.3,"y":0.32},{"comp":"secondary a","mat":"graphite","x":2.35,"y":0.305},{"comp":"secondary a","mat":"graphite","x":2.4,"y":0.315},{"comp":"secondary a","mat":"graphite","x":2.45,"y":0.3},{"comp":"secondary a","mat":"graphite","x":2.5,"y":0.31},{"comp":"secondary a","mat":"graphite","x":2.55,"y":0.3},{"comp":"secondary a","mat":"graphite","x":2.6,"y":0.28},{"comp":"secondary a","mat":"graphite","x":2.65,"y":0.25},{"comp":"secondary a","mat":"graphite","x":2.7,"y":0.2},{"comp":"secondary a","mat":"graphite","x":2.75,"y":0.17},{"comp":"secondary a","mat":"graphite","x":2.8,"y":0.135},{"comp":"secondary a","mat":"graphite","x":2.85,"y":0.1},{"comp":"secondary a","mat":"graphite","x":2.9,"y":0.06},{"comp":"secondary a","mat":"graphite","x":2.93,"y":0.035},{"comp":"secondary a","mat":"graphite","x":2.96,"y":0.017},{"comp":"secondary a","mat":"graphite","x":2.98,"y":0.01},{"comp":"secondary a","mat":"graphite","x":3,"y":0.007}
],
"ptc_ann": [{"comp":"primary p","text":"primary p","x":1.53,"y":11.2},{"comp":"secondary p","text":"secondary p","x":17.12,"y":7.84},{"comp":"secondary a","text":"secondary a","x":14.11,"y":0.0705}],
"ptc_arrows": [{"comp":"primary p","x":4.89,"y":11.7,"x2":7.68,"y2":22.8},{"comp":"secondary p","x":16.86,"y":6.3,"x2":15.28,"y2":3.45},{"comp":"secondary a","x":13.9,"y":0.0918,"x2":10.83,"y2":0.311}],
"ccc_ann": [{"comp":"primary p","text":"primary p","x":0.24,"y":11.1},{"comp":"secondary p","text":"secondary p","x":2.469,"y":1.13},{"comp":"secondary a","text":"secondary a","x":2.533,"y":0.0262}],
"ccc_arrows": [{"comp":"primary p","x":0.72,"y":11.6,"x2":1.12,"y2":26.9},{"comp":"secondary p","x":2.433,"y":0.908,"x2":2.217,"y2":0.55},{"comp":"secondary a","x":2.0,"y":0.035,"x2":1.578,"y2":0.194}],
"exps": [{"v":100,"e":"2"},{"v":10,"e":"1"},{"v":1,"e":"0"},{"v":0.1,"e":"-1"},{"v":0.01,"e":"-2"}],
"xt_ptc": [{"t":"Depth","x":6.49,"kind":"main"},{"t":"w-eq","x":9.69,"kind":"sub"},{"t":"[g.cm","x":12.05,"kind":"main"},{"t":"-2","x":15.2,"kind":"sup"},{"t":"]","x":15.99,"kind":"main"}],
"xt_ccc": [{"t":"Depth","x":0.957,"kind":"main"},{"t":"w-eq","x":1.41,"kind":"sub"},{"t":"[g.cm","x":1.746,"kind":"main"},{"t":"-2","x":2.2,"kind":"sup"},{"t":"]","x":2.3,"kind":"main"}]
},
"resolve": {"scale": {"x": "independent", "y": "independent", "color": "independent", "strokeDash": "independent"}, "legend": {"strokeDash": "independent"}},
"hconcat": [
{
 "width": 471, "height": 348,
 "title": {"text": "PTC Czech beam"},
 "resolve": {"axis": {"x": "independent", "y": "independent"}},
 "layer": [
  {
   "data": {"name": "ptc"},
   "mark": {"type": "line", "clip": true, "strokeWidth": 1.1},
   "encoding": {
    "x": {"field": "x", "type": "quantitative", "scale": {"domain": [0, 23.1], "nice": false, "zero": false},
      "axis": {"orient": "bottom", "values": [0,5,10,15,20], "format": "d", "tickSize": -6, "labelPadding": 14, "title": null, "labelFlush": false}},
    "y": {"field": "y", "type": "quantitative", "scale": {"type": "log", "domain": [0.01, 100], "nice": false},
      "axis": {"orient": "left", "values": [0.01,0.02,0.03,0.04,0.05,0.06,0.07,0.08,0.09,0.1,0.2,0.3,0.4,0.5,0.6,0.7,0.8,0.9,1,2,3,4,5,6,7,8,9,10,20,30,40,50,60,70,80,90,100],
        "labelExpr": "indexof([0.01,0.1,1,10,100], datum.value) >= 0 ? '10' : ''",
        "tickSize": {"condition": {"test": "indexof([0.01,0.1,1,10,100], datum.value) >= 0", "value": -6}, "value": -3},
        "labelPadding": {"condition": {"test": "datum.value < 0.5", "value": 33}, "value": 28},
        "labelOverlap": false, "labelFlush": false, "title": "Absorbed dose [%]", "titleFontSize": 23, "titlePadding": 5}},
    "color": {"field": "comp", "type": "nominal", "scale": {"domain": ["primary p", "secondary p", "secondary a"], "range": ["#404040", "#ff0000", "#0000ff"]}, "legend": null},
    "strokeDash": {"field": "mat", "type": "nominal", "scale": {"domain": ["water", "graphite"], "range": [[1, 0], [7, 4]]},
      "legend": {"title": null, "orient": "none", "legendX": 21, "legendY": 287, "padding": 0, "labelFontSize": 18, "labelFont": "Liberation Sans", "labelColor": "#000000", "symbolType": "stroke", "symbolSize": 1890, "symbolStrokeWidth": 1.1, "symbolStrokeColor": "#333333", "clipHeight": 20, "rowPadding": 3, "labelOffset": 3}}
   }
  },
  {
   "data": {"name": "ptc_arrows"},
   "mark": {"type": "rule", "strokeWidth": 1},
   "encoding": {
    "x": {"field": "x", "type": "quantitative", "axis": {"orient": "top", "values": [0,5,10,15,20], "labels": false, "tickSize": -6, "domain": false, "title": null}},
    "y": {"field": "y", "type": "quantitative", "axis": {"orient": "right", "values": [0.01,0.02,0.03,0.04,0.05,0.06,0.07,0.08,0.09,0.1,0.2,0.3,0.4,0.5,0.6,0.7,0.8,0.9,1,2,3,4,5,6,7,8,9,10,20,30,40,50,60,70,80,90,100], "labels": false, "domain": false, "title": null,
        "tickSize": {"condition": {"test": "indexof([0.01,0.1,1,10,100], datum.value) >= 0", "value": -6}, "value": -3}}},
    "x2": {"field": "x2"}, "y2": {"field": "y2"},
    "color": {"field": "comp", "type": "nominal", "legend": null}
   }
  },
  {
   "data": {"name": "ptc_arrows"}, "transform": [{"filter": "datum.comp == 'primary p'"}],
   "mark": {"type": "point", "shape": "M0,0L0.7,2L0,1.55L-0.7,2Z", "filled": true, "opacity": 1, "size": 196, "angle": 68},
   "encoding": {"x": {"field": "x2", "type": "quantitative", "axis": null}, "y": {"field": "y2", "type": "quantitative", "axis": null}, "color": {"field": "comp", "type": "nominal", "legend": null}}
  },
  {
   "data": {"name": "ptc_arrows"}, "transform": [{"filter": "datum.comp == 'secondary p'"}],
   "mark": {"type": "point", "shape": "M0,0L0.7,2L0,1.55L-0.7,2Z", "filled": true, "opacity": 1, "size": 196, "angle": 234},
   "encoding": {"x": {"field": "x2", "type": "quantitative", "axis": null}, "y": {"field": "y2", "type": "quantitative", "axis": null}, "color": {"field": "comp", "type": "nominal", "legend": null}}
  },
  {
   "data": {"name": "ptc_arrows"}, "transform": [{"filter": "datum.comp == 'secondary a'"}],
   "mark": {"type": "point", "shape": "M0,0L0.7,2L0,1.55L-0.7,2Z", "filled": true, "opacity": 1, "size": 196, "angle": -54},
   "encoding": {"x": {"field": "x2", "type": "quantitative", "axis": null}, "y": {"field": "y2", "type": "quantitative", "axis": null}, "color": {"field": "comp", "type": "nominal", "legend": null}}
  },
  {
   "data": {"name": "ptc_ann"},
   "mark": {"type": "text", "align": "left", "baseline": "middle", "fontSize": 14},
   "encoding": {"x": {"field": "x", "type": "quantitative", "axis": null}, "y": {"field": "y", "type": "quantitative", "axis": null}, "text": {"field": "text"},
     "color": {"field": "comp", "type": "nominal", "legend": null, "condition": {"test": "datum.comp == 'primary p'", "value": "#595959"}}}
  },
  {
   "data": {"name": "exps"},
   "mark": {"type": "text", "align": "right", "baseline": "middle", "dx": -11, "dy": -7, "fontSize": 13, "color": "#262626"},
   "encoding": {"x": {"datum": 0, "type": "quantitative", "axis": null}, "y": {"field": "v", "type": "quantitative", "axis": null}, "text": {"field": "e"}}
  },
  {
   "data": {"name": "xt_ptc"}, "transform": [{"filter": "datum.kind == 'main'"}],
   "mark": {"type": "text", "align": "left", "baseline": "middle", "dy": 53, "fontSize": 21, "color": "#262626"},
   "encoding": {"x": {"field": "x", "type": "quantitative", "axis": null}, "y": {"datum": 0.01, "type": "quantitative", "axis": null}, "text": {"field": "t"}}
  },
  {
   "data": {"name": "xt_ptc"}, "transform": [{"filter": "datum.kind == 'sub'"}],
   "mark": {"type": "text", "align": "left", "baseline": "middle", "dy": 65, "fontSize": 17, "color": "#262626"},
   "encoding": {"x": {"field": "x", "type": "quantitative", "axis": null}, "y": {"datum": 0.01, "type": "quantitative", "axis": null}, "text": {"field": "t"}}
  },
  {
   "data": {"name": "xt_ptc"}, "transform": [{"filter": "datum.kind == 'sup'"}],
   "mark": {"type": "text", "align": "left", "baseline": "middle", "dy": 43, "fontSize": 16, "color": "#262626"},
   "encoding": {"x": {"field": "x", "type": "quantitative", "axis": null}, "y": {"datum": 0.01, "type": "quantitative", "axis": null}, "text": {"field": "t"}}
  }
 ]
},
{
 "width": 468, "height": 348,
 "title": {"text": "CCC beam"},
 "view": {"stroke": null},
 "resolve": {"axis": {"x": "independent", "y": "independent"}},
 "layer": [
  {
   "data": {"name": "ccc"},
   "mark": {"type": "line", "clip": true, "strokeWidth": 1.1},
   "encoding": {
    "x": {"field": "x", "type": "quantitative", "scale": {"domain": [0, 3.24], "nice": false, "zero": false},
      "axis": {"orient": "bottom", "values": [0,0.5,1,1.5,2,2.5,3], "format": "~g", "tickSize": -6, "labelPadding": 14, "title": null, "labelFlush": false}},
    "y": {"field": "y", "type": "quantitative", "scale": {"type": "log", "domain": [0.01, 100], "nice": false},
      "axis": {"orient": "left", "values": [0.01,0.02,0.03,0.04,0.05,0.06,0.07,0.08,0.09,0.1,0.2,0.3,0.4,0.5,0.6,0.7,0.8,0.9,1,2,3,4,5,6,7,8,9,10,20,30,40,50,60,70,80,90,100],
        "labelExpr": "indexof([0.01,0.1,1,10,100], datum.value) >= 0 ? '10' : ''",
        "tickSize": {"condition": {"test": "indexof([0.01,0.1,1,10,100], datum.value) >= 0", "value": -6}, "value": -3},
        "labelPadding": {"condition": {"test": "datum.value < 0.5", "value": 33}, "value": 28},
        "labelOverlap": false, "labelFlush": false, "title": null}},
    "color": {"field": "comp", "type": "nominal", "scale": {"domain": ["primary p", "secondary p", "secondary a"], "range": ["#404040", "#ff0000", "#0000ff"]}, "legend": null},
    "strokeDash": {"field": "mat", "type": "nominal", "scale": {"domain": ["water", "graphite"], "range": [[1, 0], [7, 4]]}, "legend": null}
   }
  },
  {
   "data": {"name": "ccc_arrows"},
   "mark": {"type": "rule", "strokeWidth": 1},
   "encoding": {
    "x": {"field": "x", "type": "quantitative", "axis": {"orient": "top", "values": [0,0.5,1,1.5,2,2.5,3], "labels": false, "tickSize": -6, "domain": true, "title": null}},
    "y": {"field": "y", "type": "quantitative", "axis": null},
    "x2": {"field": "x2"}, "y2": {"field": "y2"},
    "color": {"field": "comp", "type": "nominal", "legend": null}
   }
  },
  {
   "data": {"name": "ccc_arrows"}, "transform": [{"filter": "datum.comp == 'primary p'"}],
   "mark": {"type": "point", "shape": "M0,0L0.7,2L0,1.55L-0.7,2Z", "filled": true, "opacity": 1, "size": 196, "angle": 61},
   "encoding": {"x": {"field": "x2", "type": "quantitative", "axis": null}, "y": {"field": "y2", "type": "quantitative", "axis": null}, "color": {"field": "comp", "type": "nominal", "legend": null}}
  },
  {
   "data": {"name": "ccc_arrows"}, "transform": [{"filter": "datum.comp == 'secondary p'"}],
   "mark": {"type": "point", "shape": "M0,0L0.7,2L0,1.55L-0.7,2Z", "filled": true, "opacity": 1, "size": 196, "angle": 235},
   "encoding": {"x": {"field": "x2", "type": "quantitative", "axis": null}, "y": {"field": "y2", "type": "quantitative", "axis": null}, "color": {"field": "comp", "type": "nominal", "legend": null}}
  },
  {
   "data": {"name": "ccc_arrows"}, "transform": [{"filter": "datum.comp == 'secondary a'"}],
   "mark": {"type": "point", "shape": "M0,0L0.7,2L0,1.55L-0.7,2Z", "filled": true, "opacity": 1, "size": 196, "angle": -43},
   "encoding": {"x": {"field": "x2", "type": "quantitative", "axis": null}, "y": {"field": "y2", "type": "quantitative", "axis": null}, "color": {"field": "comp", "type": "nominal", "legend": null}}
  },
  {
   "data": {"name": "ccc_ann"},
   "mark": {"type": "text", "align": "left", "baseline": "middle", "fontSize": 14},
   "encoding": {"x": {"field": "x", "type": "quantitative", "axis": null}, "y": {"field": "y", "type": "quantitative", "axis": null}, "text": {"field": "text"},
     "color": {"field": "comp", "type": "nominal", "legend": null, "condition": {"test": "datum.comp == 'primary p'", "value": "#595959"}}}
  },
  {
   "data": {"name": "exps"},
   "mark": {"type": "text", "align": "right", "baseline": "middle", "dx": -11, "dy": -7, "fontSize": 13, "color": "#262626"},
   "encoding": {"x": {"datum": 0, "type": "quantitative", "axis": null}, "y": {"field": "v", "type": "quantitative", "axis": null}, "text": {"field": "e"}}
  },
  {
   "data": {"name": "xt_ccc"}, "transform": [{"filter": "datum.kind == 'main'"}],
   "mark": {"type": "text", "align": "left", "baseline": "middle", "dy": 53, "fontSize": 21, "color": "#262626"},
   "encoding": {"x": {"field": "x", "type": "quantitative", "axis": null}, "y": {"datum": 0.01, "type": "quantitative", "axis": null}, "text": {"field": "t"}}
  },
  {
   "data": {"name": "xt_ccc"}, "transform": [{"filter": "datum.kind == 'sub'"}],
   "mark": {"type": "text", "align": "left", "baseline": "middle", "dy": 65, "fontSize": 17, "color": "#262626"},
   "encoding": {"x": {"field": "x", "type": "quantitative", "axis": null}, "y": {"datum": 0.01, "type": "quantitative", "axis": null}, "text": {"field": "t"}}
  },
  {
   "data": {"name": "xt_ccc"}, "transform": [{"filter": "datum.kind == 'sup'"}],
   "mark": {"type": "text", "align": "left", "baseline": "middle", "dy": 43, "fontSize": 16, "color": "#262626"},
   "encoding": {"x": {"field": "x", "type": "quantitative", "axis": null}, "y": {"datum": 0.01, "type": "quantitative", "axis": null}, "text": {"field": "t"}}
  }
 ]
}
]
}
